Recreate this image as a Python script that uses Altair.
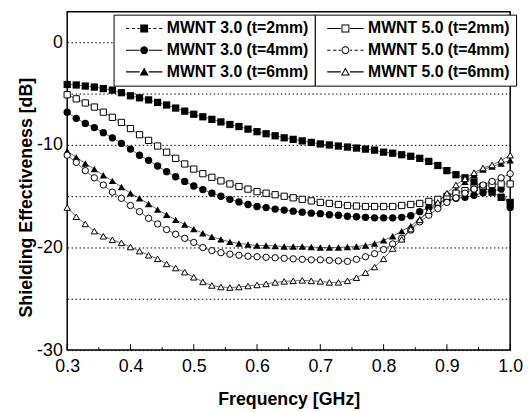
import altair as alt
import pandas as pd

freq = [0.3, 0.3143, 0.3286, 0.3429, 0.3571, 0.3714, 0.3857,
        0.4, 0.4143, 0.4286, 0.4429, 0.4571, 0.4714, 0.4857,
        0.5, 0.5143, 0.5286, 0.5429, 0.5571, 0.5714, 0.5857,
        0.6, 0.6143, 0.6286, 0.6429, 0.6571, 0.6714, 0.6857,
        0.7, 0.7143, 0.7286, 0.7429, 0.7571, 0.7714, 0.7857,
        0.8, 0.8143, 0.8286, 0.8429, 0.8571, 0.8714, 0.8857,
        0.9, 0.9143, 0.9286, 0.9429, 0.9571, 0.9714, 0.9857, 1.0]

mwnt30_t2 = [-4.1, -4.15, -4.25, -4.35, -4.5, -4.65, -4.9,
             -5.2, -5.4, -5.6, -5.85, -6.1, -6.4, -6.7,
             -7.0, -7.25, -7.5, -7.75, -8.0, -8.2, -8.45,
             -8.7, -8.9, -9.1, -9.3, -9.45, -9.6, -9.75,
             -9.9, -10.0, -10.1, -10.2, -10.3, -10.4, -10.5,
             -10.7, -10.8, -10.95, -11.1, -11.3, -11.6, -12.0,
             -12.5, -12.9, -13.2, -13.6, -14.1, -14.6, -15.1, -15.6]
mwnt30_t4 = [-6.8, -7.4, -7.9, -8.3, -8.8, -9.3, -9.85,
             -10.4, -11.0, -11.5, -12.05, -12.6, -13.1, -13.55,
             -14.0, -14.35, -14.7, -15.0, -15.3, -15.55, -15.8,
             -16.0, -16.1, -16.25, -16.35, -16.45, -16.55, -16.65,
             -16.7, -16.8, -16.85, -16.95, -17.0, -17.05, -17.1,
             -17.1, -17.1, -17.05, -16.9, -16.5, -16.1, -15.65,
             -15.4, -15.2, -15.1, -14.9, -14.65, -14.5, -14.3, -16.1]
mwnt30_t6 = [-10.6, -11.2, -11.8, -12.35, -12.95, -13.5, -14.1,
             -14.7, -15.2, -15.75, -16.3, -16.8, -17.3, -17.75,
             -18.2, -18.6, -18.95, -19.2, -19.45, -19.6, -19.7,
             -19.8, -19.8, -19.85, -19.9, -19.9, -19.9, -19.95,
             -20.0, -20.0, -20.0, -19.95, -19.9, -19.8, -19.6,
             -19.3, -18.9, -18.4, -17.9, -17.2, -16.5, -15.8,
             -15.1, -14.4, -13.6, -12.9, -12.4, -12.1, -11.8, -11.5]
mwnt50_t2 = [-5.1, -5.5, -5.9, -6.3, -6.8, -7.3, -7.8,
             -8.4, -9.0, -9.55, -10.1, -10.7, -11.3, -11.85,
             -12.35, -12.8, -13.15, -13.5, -13.8, -14.05, -14.3,
             -14.55, -14.7, -14.85, -15.0, -15.15, -15.3, -15.45,
             -15.6, -15.7, -15.8, -15.9, -15.95, -16.0, -16.0,
             -16.0, -16.0, -15.9, -15.8, -15.7, -15.5, -15.3,
             -15.0, -14.7, -14.45, -14.2, -14.0, -13.85, -13.8, -13.8]
mwnt50_t4 = [-11.0, -11.7, -12.5, -13.2, -13.9, -14.6, -15.2,
             -15.9, -16.5, -17.15, -17.7, -18.25, -18.7, -19.1,
             -19.5, -20.0, -20.3, -20.5, -20.65, -20.75, -20.85,
             -20.9, -20.95, -21.0, -21.05, -21.1, -21.15, -21.2,
             -21.2, -21.25, -21.3, -21.35, -21.15, -20.9, -20.6,
             -20.2, -19.65, -19.1, -18.3, -17.5, -16.85, -16.2,
             -15.6, -15.15, -14.7, -14.3, -13.9, -13.55, -13.2, -12.8]
mwnt50_t6 = [-16.1, -17.0, -17.7, -18.4, -18.9, -19.25, -19.55,
             -19.95, -20.35, -20.75, -21.1, -21.6, -22.0, -22.4,
             -22.9, -23.35, -23.7, -23.85, -23.9, -23.85, -23.75,
             -23.65, -23.55, -23.4, -23.3, -23.25, -23.2, -23.25,
             -23.3, -23.4, -23.4, -23.25, -22.95, -22.45, -21.9,
             -21.1, -20.1, -19.2, -18.2, -17.3, -16.4, -15.6,
             -14.7, -13.9, -13.3, -12.7, -12.25, -11.95, -11.5, -11.0]

names30 = ["MWNT 3.0 (t=2mm)", "MWNT 3.0 (t=4mm)", "MWNT 3.0 (t=6mm)"]
names50 = ["MWNT 5.0 (t=2mm)", "MWNT 5.0 (t=4mm)", "MWNT 5.0 (t=6mm)"]
series_values = [mwnt30_t2, mwnt30_t4, mwnt30_t6, mwnt50_t2, mwnt50_t4, mwnt50_t6]

x_ticks = [0.3, 0.4, 0.5, 0.6, 0.7, 0.8, 0.9, 1.0]
x_minor = [0.35, 0.45, 0.55, 0.65, 0.75, 0.85, 0.95]
y_grid = [-30, -25, -20, -15, -10, -5, 0]

rows = []
for name, vals in zip(names30 + names50, series_values):
    for f, v in zip(freq, vals):
        rows.append({"f": f, "se": v, "series": name,
                     "group": "3.0" if "3.0" in name else "5.0"})
df = pd.DataFrame(rows)

W, H = 449, 343
FONT = "Liberation Sans"

xscale = alt.Scale(domain=[0.3, 1.0], nice=False, zero=False)
yscale = alt.Scale(domain=[-30, 3], nice=False, zero=False)

x_enc = alt.X("f:Q", scale=xscale,
              axis=alt.Axis(values=x_ticks, format=".1f", title="Frequency [GHz]",
                            grid=False, domain=False, tickSize=0, labelPadding=8,
                            labelFlush=False, labelOverlap=False,
                            labelFontSize=18, labelFont=FONT, labelColor="black",
                            titleFontSize=18, titleFont=FONT, titleFontWeight="bold",
                            titleColor="black", titlePadding=15))
y_enc = alt.Y("se:Q", scale=yscale,
              axis=alt.Axis(values=y_grid, title="Shielding Effectiveness [dB]",
                            labelExpr="datum.value % 10 == 0 ? toString(datum.value) : ''",
                            grid=True, gridDash=[1.5, 2.5], gridColor="black",
                            gridWidth=1, gridOpacity=1, domain=False, tickSize=0,
                            labelFlush=False, labelOverlap=False,
                            labelPadding=5, labelFontSize=18, labelFont=FONT,
                            labelColor="black", titleFontSize=18, titleFont=FONT,
                            titleFontWeight="bold", titleColor="black",
                            titleX=-41, titleY=188, titleAngle=270,
                            titleAlign="center", titleBaseline="middle"))

lines = alt.Chart(df).mark_line(color="black", strokeWidth=0.6).encode(
    x=x_enc, y=y_enc, detail="series:N")

shape_plain = ["square", "circle", "triangle-up"]

pts30 = alt.Chart(df).transform_filter(alt.datum.group == "3.0").mark_point(
    filled=True, color="black", opacity=1).encode(
    x="f:Q", y="se:Q",
    shape=alt.Shape("series:N", scale=alt.Scale(domain=names30, range=shape_plain), legend=None),
    size=alt.Size("series:N", scale=alt.Scale(domain=names30, range=[54, 56, 68]), legend=None))

pts50 = alt.Chart(df).transform_filter(alt.datum.group == "5.0").mark_point(
    fill="white", stroke="black", strokeWidth=1, opacity=1).encode(
    x="f:Q", y="se:Q",
    shape=alt.Shape("series:N", scale=alt.Scale(domain=names50, range=shape_plain), legend=None),
    size=alt.Size("series:N", scale=alt.Scale(domain=names50, range=[40, 42, 64]), legend=None))

# legend glyphs, built only from filled areas (unit = 4 px)
SOLID = "M-4.6,-0.13H-1.15V0.13H-4.6Z M1.15,-0.13H4.6V0.13H1.15Z "
DASH = ("M-4.6,-0.13H-3.8V0.13H-4.6Z M-3.1,-0.13H-2.3V0.13H-3.1Z "
        "M-1.7,-0.13H-1.15V0.13H-1.7Z M1.15,-0.13H1.7V0.13H1.15Z "
        "M2.3,-0.13H3.1V0.13H2.3Z M3.8,-0.13H4.6V0.13H3.8Z ")
SQ = "M-1,-1H1V1H-1Z"
CI = "M1,0A1,1,0,1,1,-1,0A1,1,0,1,1,1,0Z"
TR = "M0,-1.1L1.15,0.9H-1.15Z"
SQ_O = SQ + " M-0.75,-0.75V0.75H0.75V-0.75Z"
CI_O = CI + " M0.75,0A0.75,0.75,0,1,0,-0.75,0A0.75,0.75,0,1,0,0.75,0Z"
TR_O = TR + " M0,-0.6L-0.72,0.65H0.72Z"

leg_common = dict(orient="none", title=None, labelFont=FONT, labelFontSize=16,
                  labelFontWeight="bold", labelColor="black", strokeColor="black",
                  fillColor="white", padding=6, rowPadding=6, labelOffset=15,
                  symbolSize=64, symbolStrokeWidth=0, symbolOffset=17,
                  legendY=3, symbolFillColor="black", symbolOpacity=1)

leg30 = alt.Chart(df).transform_filter("false").mark_point(
    filled=True, color="black", opacity=1).encode(
    x="f:Q", y="se:Q",
    shape=alt.Shape("series:N",
                    scale=alt.Scale(domain=names30,
                                    range=[DASH + SQ, SOLID + CI, SOLID + TR]),
                    legend=alt.Legend(legendX=47, **leg_common)))

leg50 = alt.Chart(df).transform_filter("false").mark_point(
    filled=True, color="black", opacity=1).encode(
    x="f:Q", y="se:Q",
    shape=alt.Shape("series:N",
                    scale=alt.Scale(domain=names50,
                                    range=[SOLID + SQ_O, DASH + CI_O, SOLID + TR_O]),
                    legend=alt.Legend(legendX=251, **leg_common)))

tick_df = pd.DataFrame({"t": x_ticks})
minor_df = pd.DataFrame({"t": x_minor})
ticks = alt.Chart(tick_df).mark_rule(color="black", strokeWidth=1).encode(
    x=alt.X("t:Q", scale=xscale), y=alt.value(H), y2=alt.value(H - 6))
ticks_minor = alt.Chart(minor_df).mark_rule(color="black", strokeWidth=1).encode(
    x=alt.X("t:Q", scale=xscale), y=alt.value(H), y2=alt.value(H - 3))

chart = alt.layer(lines, ticks, ticks_minor, pts30, pts50, leg30, leg50).resolve_scale(
    shape="independent", size="independent"
).properties(
    width=W, height=H,
    autosize=alt.AutoSizeParams(type="none"),
    padding={"left": 60, "top": 1, "right": 13, "bottom": 58},
    background="white",
).configure_view(stroke="black", strokeWidth=1.5)

chart.save("out.html", embed_options={"renderer": "svg", "actions": False})
